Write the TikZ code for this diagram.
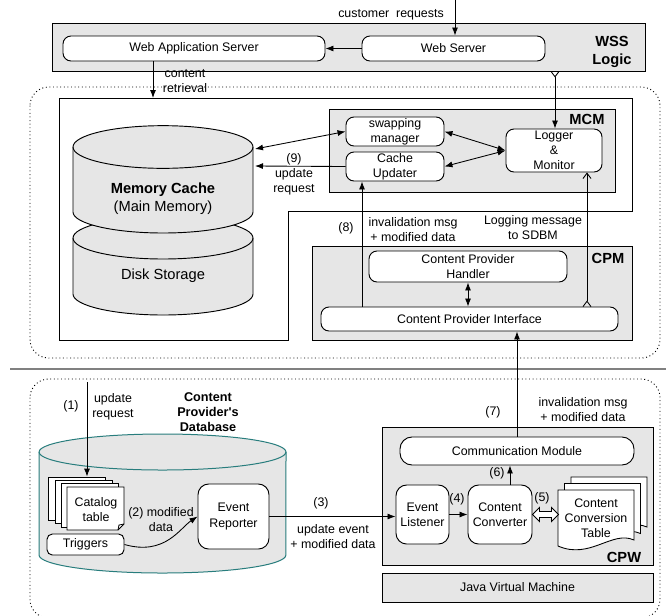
\documentclass[tikz,border=0pt]{standalone}
\usepackage{fontspec}
\setmainfont{Liberation Sans}
\usetikzlibrary{arrows.meta}
\definecolor{boxgray}{RGB}{230,230,230}
\definecolor{dbteal}{RGB}{40,125,125}
\definecolor{sepgray}{RGB}{128,128,128}
\newcommand{\mybox}[6]{\node[#1, minimum width={(#4-#2)*0.75pt}, minimum height={(#5-#3)*0.75pt}] (#6) at ({(#2+#4)/2},{(#3+#5)/2})}
\begin{document}
\begin{tikzpicture}[x=0.75pt,y=-0.75pt,
  every node/.style={font=\fontsize{9.3}{11.3}\selectfont, inner sep=0pt, align=center},
  rbox/.style={draw, fill=white, rounded corners=6pt, line width=0.7pt},
  gbox/.style={draw, fill=boxgray, line width=0.7pt},
  sheet/.style={draw, fill=white, line width=0.65pt},
  boldlbl/.style={font=\fontsize{11}{14}\selectfont\bfseries},
  arr/.style={-{Latex[length=6pt,width=4.5pt]}, line width=0.65pt},
  darr/.style={{Latex[length=6pt,width=4.5pt]}-{Latex[length=6pt,width=4.5pt]}, line width=0.65pt},
  barbs/.style={line width=0.65pt},
  region/.style={dotted, line width=0.7pt, rounded corners=14pt},
  ]
\useasboundingbox (0,0) rectangle (666,615);

% ---------- regions ----------
\draw[region] (30,87) rectangle (660,358);
\draw[region] (30,379) rectangle (660,618);
\draw[sepgray, line width=2.2pt] (10,369) -- (666,369);

% ---------- WSS Logic ----------
\mybox{gbox}{52}{23}{645}{71}{wss}{};
\node[boldlbl] (wsslbl) at (612,52) {WSS\\Logic};
\mybox{rbox}{63}{36}{325}{61}{was}{Web Application Server};
\mybox{rbox}{362}{36}{545}{61}{ws}{Web Server};

% ---------- main server box ----------
\draw[line width=0.7pt, fill=white] (59,98) -- (632,98) -- (632,211) -- (288,211) -- (288,340) -- (59,340) -- cycle;

% Disk storage cylinder
\draw[gbox] (73,238) -- (73,294) arc[start angle=180, end angle=360, x radius=67.5pt, y radius=15.75pt]
  -- (253,238) arc[start angle=0, end angle=180, x radius=67.5pt, y radius=15.75pt] -- cycle;
\draw[line width=0.7pt] (73,238) arc[start angle=180, end angle=360, x radius=67.5pt, y radius=15.75pt];
% Memory cache cylinder
\draw[gbox] (73,147) -- (73,212) arc[start angle=180, end angle=360, x radius=67.5pt, y radius=15.75pt]
  -- (253,147) arc[start angle=0, end angle=180, x radius=67.5pt, y radius=16pt] -- cycle;
\draw[line width=0.7pt] (73,147) arc[start angle=180, end angle=360, x radius=67.5pt, y radius=16pt];
\node[font=\fontsize{11}{13.5}\selectfont] (mc) at (163,199) {\textbf{Memory Cache}\\(Main Memory)};
\node[font=\fontsize{11}{13.5}\selectfont] (ds) at (163,276) {Disk Storage};
\coordinate (mcA) at (255,149);
\coordinate (mcB) at (255,166);

% MCM
\mybox{gbox}{329}{109}{615}{192}{mcm}{};
\node[boldlbl] (mcmlbl) at (587,119) {MCM};
\mybox{rbox}{346}{117}{444}{146}{swap}{swapping\\manager};
\mybox{rbox}{346}{152}{444}{181}{cu}{Cache\\Updater};
\mybox{rbox}{506}{129}{602}{172}{logger}{Logger\\\&\\Monitor};

% CPM
\mybox{gbox}{312}{246}{632}{340}{cpm}{};
\node[boldlbl] (cpmlbl) at (608,258) {CPM};
\mybox{rbox}{369}{251}{567}{282}{cph}{Content Provider\\Handler};
\mybox{rbox}{321}{307}{618}{331}{cpi}{Content Provider Interface};

% ---------- content provider side ----------
% DB cylinder
\draw[draw=dbteal, fill=boxgray, line width=0.75pt] (39,452) -- (39,555) arc[start angle=180, end angle=360, x radius=92.6pt, y radius=13.5pt]
  -- (286,452) arc[start angle=0, end angle=180, x radius=92.6pt, y radius=13.5pt] -- cycle;
\draw[dbteal, line width=0.75pt] (39,452) arc[start angle=180, end angle=360, x radius=92.6pt, y radius=13.5pt];
\node[font=\fontsize{9.5}{11.3}\selectfont\bfseries] (cpdb) at (208,412) {Content\\Provider\textquotesingle s\\Database};

% catalog sheets
\mybox{sheet}{48}{477}{105}{520}{sh1}{};
\mybox{sheet}{55}{480}{112}{523}{sh2}{};
\mybox{sheet}{61}{483}{118}{527}{sh3}{};
\draw[sheet] (67,487) -- (124,487) -- (124,524) -- (118,530) -- (67,530) -- cycle;
\draw[line width=0.6pt] (118,530) -- (119,525) -- (124,524);
\node (cat) at (96,510) {Catalog\\table};
\mybox{rbox, rounded corners=4pt}{47}{534}{124}{555}{trig}{Triggers};
\mybox{rbox, rounded corners=8pt}{198}{484}{269}{549}{er}{Event\\Reporter};

% CPW
\mybox{gbox}{382}{427}{653}{565}{cpw}{};
\node[boldlbl] (cpwlbl) at (624,557) {CPW};
\mybox{rbox, rounded corners=9pt}{400}{437}{634}{465}{comm}{Communication Module};
\mybox{rbox, rounded corners=8pt}{396}{485}{449}{544}{el}{Event\\Listener};
\mybox{rbox, rounded corners=8pt}{468}{485}{532}{544}{cc}{Content\\Converter};
% conversion table document stack
\foreach \dx/\dy in {13/-13, 6.5/-6.5, 0/0}{
  \draw[sheet, shift={(\dx,\dy)}] (558,490) -- (634,490) -- (634,540)
    .. controls (612,530) and (590,560) .. (558,546) -- cycle;
}
\node (cct) at (596,518) {Content\\Conversion\\Table};
\mybox{gbox}{382}{573}{653}{602}{jvm}{Java Virtual Machine};

% ---------- connectors ----------
\coordinate (pc) at (455,0);
\draw[arr] (pc) -- (pc |- ws.north);
\node (lcr) at (391,15) {customer~ requests};
\draw[arr] (ws.west) -- (was.east);
\coordinate (pret) at (153,98);
\draw[arr] (pret |- was.south) -- (pret);
\node (cret) at (185,81) {content\\retrieval};
\coordinate (pw) at (555,71);
\draw[barbs, {Straight Barb[reversed,length=4pt,width=6pt]}-{Latex[length=6pt,width=4.5pt]}] (pw) -- (pw |- logger.north);

\draw[darr] (mcA) -- (swap.west);
\draw[arr] (cu.west) -- (mcB);
\node (l9) at (294,174) {(9)\\update\\request};
\draw[darr] (swap.east) -- (logger.west);
\draw[darr] (cu.east) -- (logger.west);

\coordinate (p8) at (362,307);
\draw[arr] (p8) -- (p8 |- cu.south);
\node (l8) at (346,228) {(8)};
\node (l8b) at (413,230) {invalidation msg\\+ modified data};
\coordinate (plog) at (587,307);
\draw[barbs, {Straight Barb[reversed,length=4pt,width=6pt]}-{Straight Barb[length=4pt,width=6pt]}] (plog) -- (plog |- logger.south);
\node (llog) at (533,228) {Logging message\\to SDBM};
\draw[darr] (cph.south) -- (cph.south |- cpi.north);

\draw[arr] (comm.north) -- (comm.north |- cpi.south);
\node (l7) at (493,412) {(7)};
\node (l7b) at (583,410) {invalidation msg\\+ modified data};

\coordinate (p1) at (87,382);
\draw[arr] (p1) -- (p1 |- sh1.north);
\node (l1) at (71,406) {(1)};
\node (l1b) at (113,407) {update\\request};

\draw[arr] (trig.east) .. controls (165,556) and (180,528) .. (er.west);
\node (l2) at (161,520) {(2) modified\\data};

\draw[arr] (er.east) -- (er.east -| el.west);
\node (l3) at (321,503) {(3)};
\node (l3b) at (333,537) {update event\\+ modified data};
\draw[arr] (el.east) -- (cc.west);
\node (l4) at (457,499) {(4)};
\draw[fill=white, line width=0.65pt] (cc.east) -- ++(7,-7) -- ++(0,4) -- ++(12,0) -- ++(0,-4) -- ++(7,7)
  -- ++(-7,7) -- ++(0,-4) -- ++(-12,0) -- ++(0,4) -- cycle;
\node (l5) at (542,498) {(5)};
\coordinate (p6) at (510,485);
\draw[arr] (p6) -- (p6 |- comm.south);
\node (l6) at (497,473) {(6)};
\end{tikzpicture}
\end{document}
